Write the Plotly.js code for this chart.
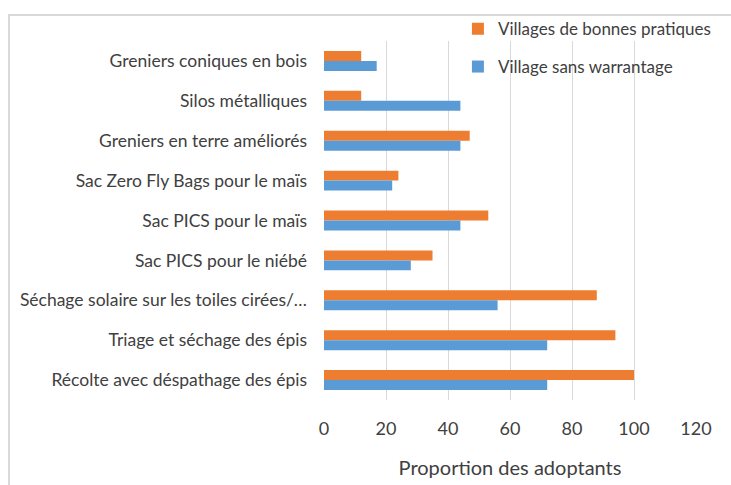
<!DOCTYPE html>
<html>
<head>
<meta charset="utf-8">
<script src="https://cdn.plot.ly/plotly-3.0.1.min.js"></script>
<style>
html,body{margin:0;padding:0;background:#fff;}
#frame{position:absolute;left:8px;top:14px;width:740px;height:480px;border-top:2px solid #d9d9d9;border-left:2px solid #d9d9d9;box-sizing:border-box;}
#chart{position:absolute;left:0;top:0;width:731px;height:485px;}
</style>
</head>
<body>
<div id="frame"></div>
<div id="chart"></div>
<script>
const categories = [
  "Greniers coniques en bois",
  "Silos métalliques",
  "Greniers en terre améliorés",
  "Sac Zero Fly Bags pour le maïs",
  "Sac PICS pour le maïs",
  "Sac PICS pour le niébé",
  "Séchage solaire sur les toiles cirées/…",
  "Triage et séchage des épis",
  "Récolte avec déspathage des épis"
];
const bonnesPratiques = [12, 12, 47, 24, 53, 35, 88, 94, 100];
const sansWarrantage = [17, 44, 44, 22, 44, 28, 56, 72, 72];
const seriesNames = ["Villages de bonnes pratiques", "Village sans warrantage"];
const xTicks = [0, 20, 40, 60, 80, 100, 120];

const FONT = "Lato, 'DejaVu Sans', sans-serif";
const TXT = "#404040";

const data = [
  {type:'bar', orientation:'h', name:seriesNames[0], y:categories, x:bonnesPratiques,
   marker:{color:'#ed7d31'}, legend:'legend', hoverinfo:'x+y'},
  {type:'bar', orientation:'h', name:seriesNames[1], y:categories, x:sansWarrantage,
   marker:{color:'#5b9bd5'}, legend:'legend2', hoverinfo:'x+y'}
];

const layout = {
  width:731, height:485,
  margin:{l:324, r:35, t:40, b:85},
  paper_bgcolor:'rgba(0,0,0,0)', plot_bgcolor:'rgba(0,0,0,0)',
  font:{family:FONT, color:TXT, size:17},
  barmode:'group', bargap:0.5, bargroupgap:0,
  xaxis:{range:[0,120], tickvals:xTicks, ticktext:xTicks.map(String),
    showgrid:true, gridcolor:'#d9d9d9', gridwidth:1, zeroline:false, showline:false,
    ticks:'', ticklabelstandoff:16, tickfont:{size:18, color:TXT, family:FONT},
    title:{text:'Proportion des adoptants', font:{size:20, color:TXT, family:FONT}, standoff:22}},
  yaxis:{categoryorder:'array', categoryarray:categories, autorange:'reversed',
    showgrid:false, zeroline:false, showline:false, ticks:'', ticklabelstandoff:16,
    tickfont:{size:17.5, color:TXT, family:FONT}},
  showlegend:true,
  legend:{x:0.36, y:1.08, xanchor:'left', yanchor:'top', bgcolor:'rgba(0,0,0,0)',
    font:{size:17, color:TXT, family:FONT}, itemwidth:30},
  legend2:{x:0.36, y:0.975, xanchor:'left', yanchor:'top', bgcolor:'rgba(0,0,0,0)',
    font:{size:17, color:TXT, family:FONT}, itemwidth:30}
};

Plotly.newPlot('chart', data, layout, {displayModeBar:false, staticPlot:true});
</script>
</body>
</html>
